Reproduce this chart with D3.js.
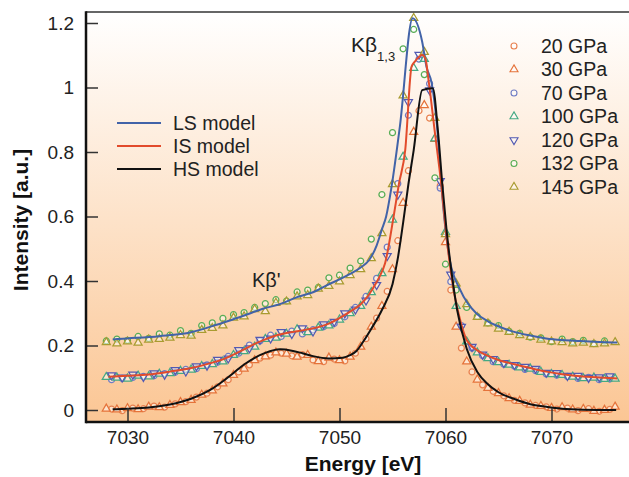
<!DOCTYPE html>
<html><head><meta charset="utf-8">
<script src="https://cdn.jsdelivr.net/npm/d3@7"></script>
<style>
html,body{margin:0;padding:0;background:#fff;}
svg{display:block;font-family:"Liberation Sans",Arial,Helvetica,sans-serif;}
</style></head><body>
<svg id="chart" width="629" height="477"></svg>
<script>
// Energy grids of the measured spectra (eV)
const energyA = [7028.5,7029.5,7030.5,7031.5,7032.5,7033.5,7034.5,7035.5,7036.5,7037.5,7038.5,7039.5,7040.5,7041.5,7042.5,7043.5,7044.5,7045.5,7046.5,7047.5,7048.5,7049.5,7050.5,7051.5,7052.5,7053.5,7054.5,7055.5,7056.5,7057.5,7058.5,7059.5,7060.5,7061.5,7062.5,7063.5,7064.5,7065.5,7066.5,7067.5,7068.5,7069.5,7070.5,7071.5,7072.5,7073.5,7074.5,7075.5];
const energyB = [7028,7029,7030,7031,7032,7033,7034,7035,7036,7037,7038,7039,7040,7041,7042,7043,7044,7045,7046,7047,7048,7049,7050,7051,7052,7053,7054,7055,7056,7057,7058,7059,7060,7061,7062,7063,7064,7065,7066,7067,7068,7069,7070,7071,7072,7073,7074,7075,7076];

// Measured intensities (offset spectra), one array per pressure
const gpa20 = [0.003,-0.002,0.006,0.004,0.012,0.009,0.019,0.026,0.040,0.052,0.072,0.094,0.118,0.140,0.161,0.170,0.176,0.168,0.172,0.155,0.150,0.158,0.152,0.176,0.221,0.285,0.368,0.525,0.742,0.928,0.905,0.695,0.372,0.192,0.118,0.078,0.058,0.044,0.030,0.022,0.014,0.010,0.003,0.006,-0.002,0.004,-0.004,0.002];
const gpa30 = [0.004,0.001,0.005,0.002,0.010,0.008,0.015,0.024,0.031,0.047,0.060,0.082,0.108,0.128,0.154,0.166,0.178,0.174,0.165,0.170,0.151,0.162,0.154,0.165,0.196,0.258,0.322,0.436,0.642,0.862,0.945,0.840,0.520,0.258,0.150,0.094,0.068,0.052,0.036,0.028,0.016,0.012,0.006,0.008,0.001,0.003,-0.003,0.000,0.010];
const gpa70 = [0.094,0.098,0.101,0.104,0.106,0.113,0.117,0.126,0.128,0.140,0.148,0.166,0.176,0.201,0.214,0.232,0.228,0.245,0.236,0.249,0.258,0.268,0.289,0.318,0.352,0.408,0.505,0.702,0.914,1.088,1.012,0.688,0.398,0.262,0.192,0.168,0.150,0.142,0.136,0.126,0.122,0.112,0.108,0.104,0.098,0.101,0.094,0.096];
const gpa100 = [0.102,0.100,0.097,0.106,0.104,0.112,0.114,0.121,0.125,0.136,0.142,0.150,0.170,0.182,0.196,0.220,0.224,0.236,0.250,0.241,0.255,0.262,0.280,0.300,0.322,0.365,0.424,0.590,0.785,1.060,1.088,0.842,0.552,0.322,0.212,0.178,0.160,0.148,0.140,0.132,0.128,0.118,0.111,0.108,0.103,0.098,0.100,0.096,0.097];
const gpa120 = [0.108,0.101,0.110,0.103,0.114,0.110,0.124,0.120,0.136,0.138,0.156,0.160,0.186,0.192,0.218,0.222,0.242,0.236,0.254,0.244,0.266,0.274,0.300,0.312,0.340,0.388,0.478,0.668,0.955,1.102,0.992,0.710,0.420,0.258,0.196,0.172,0.158,0.146,0.140,0.134,0.128,0.116,0.115,0.106,0.106,0.100,0.102,0.105];
const gpa132 = [0.214,0.220,0.216,0.228,0.222,0.236,0.232,0.246,0.238,0.262,0.270,0.284,0.296,0.302,0.318,0.330,0.342,0.338,0.366,0.372,0.380,0.410,0.418,0.440,0.462,0.530,0.668,0.860,1.120,1.180,1.040,0.720,0.452,0.372,0.318,0.290,0.270,0.262,0.244,0.238,0.226,0.224,0.212,0.220,0.212,0.216,0.206,0.214];
const gpa145 = [0.210,0.206,0.212,0.208,0.218,0.220,0.224,0.232,0.230,0.248,0.254,0.262,0.286,0.290,0.312,0.306,0.332,0.336,0.352,0.356,0.376,0.384,0.398,0.418,0.436,0.470,0.548,0.700,0.975,1.215,1.110,0.905,0.545,0.392,0.328,0.288,0.268,0.252,0.242,0.232,0.226,0.218,0.212,0.210,0.206,0.208,0.204,0.206,0.210];

// Model spectra [energy, intensity]
const modelLS = [[7028.6,0.219],[7030,0.222],[7033,0.229],[7036,0.241],[7038,0.260],[7039.5,0.276],[7041,0.293],[7042.7,0.313],[7044.5,0.330],[7046,0.350],[7047.5,0.365],[7049,0.390],[7050,0.405],[7051,0.422],[7052,0.442],[7052.8,0.465],[7053.5,0.51],[7054,0.56],[7054.4,0.60],[7054.9,0.69],[7055.7,0.88],[7056.9,1.215],[7057.8,1.142],[7058.2,1.065],[7058.7,1.013],[7059.2,0.88],[7059.6,0.70],[7060,0.56],[7060.4,0.465],[7061.4,0.372],[7062.9,0.300],[7064,0.275],[7065.1,0.258],[7066.4,0.243],[7068,0.231],[7069.5,0.222],[7071,0.217],[7072.7,0.214],[7074.5,0.211],[7076.2,0.209]];
const modelIS = [[7028.2,0.103],[7030,0.106],[7032,0.110],[7034,0.119],[7036,0.130],[7038,0.147],[7039,0.157],[7040,0.172],[7041,0.188],[7042,0.205],[7043,0.219],[7044,0.231],[7045,0.239],[7046,0.244],[7047,0.250],[7048,0.257],[7049,0.268],[7050,0.285],[7051,0.305],[7052,0.328],[7052.6,0.35],[7053.2,0.38],[7053.8,0.415],[7054.3,0.455],[7055.1,0.599],[7055.6,0.70],[7056.2,0.806],[7056.8,1.065],[7057.1,1.080],[7057.8,1.101],[7058.1,1.090],[7058.4,1.023],[7059.0,0.86],[7059.6,0.70],[7060.1,0.537],[7060.7,0.385],[7061.3,0.29],[7062,0.217],[7063,0.185],[7064,0.168],[7065,0.155],[7066.5,0.142],[7068,0.130],[7069.5,0.119],[7071,0.111],[7072.7,0.105],[7074.5,0.101],[7076.2,0.098]];
const modelHS = [[7028.6,0.002],[7030,0.004],[7032,0.008],[7034,0.017],[7036,0.035],[7038,0.066],[7039,0.089],[7040,0.115],[7041,0.141],[7042,0.162],[7043,0.177],[7044.4,0.188],[7045.5,0.184],[7046.5,0.176],[7047.5,0.167],[7049,0.160],[7050.3,0.162],[7051,0.170],[7051.6,0.183],[7052.2,0.21],[7053,0.252],[7054,0.31],[7055,0.39],[7055.5,0.47],[7056,0.58],[7056.5,0.70],[7057,0.806],[7057.8,0.992],[7058.8,0.998],[7059.3,0.86],[7059.7,0.70],[7060.1,0.558],[7060.6,0.42],[7061.1,0.31],[7062,0.19],[7063,0.118],[7064,0.080],[7065,0.055],[7066.5,0.034],[7068,0.018],[7069.5,0.010],[7071,0.004],[7073,0.001],[7076.1,0]];

const seriesLabels = ["20 GPa","30 GPa","70 GPa","100 GPa","120 GPa","132 GPa","145 GPa"];
const modelLabels = ["LS model","IS model","HS model"];
const xTicks = [7030,7040,7050,7060,7070];
const yTicks = [0,0.2,0.4,0.6,0.8,1,1.2];

const series = [
  {label: seriesLabels[0], e: energyA, v: gpa20,  shape: "circle",  color: "#e8814f"},
  {label: seriesLabels[1], e: energyB, v: gpa30,  shape: "up",      color: "#e5733a"},
  {label: seriesLabels[2], e: energyA, v: gpa70,  shape: "circle",  color: "#6f7cc4"},
  {label: seriesLabels[3], e: energyB, v: gpa100, shape: "up",      color: "#45a983"},
  {label: seriesLabels[4], e: energyA, v: gpa120, shape: "down",    color: "#525ab2"},
  {label: seriesLabels[5], e: energyB, v: gpa132, shape: "circle",  color: "#58ad55"},
  {label: seriesLabels[6], e: energyB, v: gpa145, shape: "up",      color: "#a99b30"}
];
const models = [
  {label: modelLabels[0], pts: modelLS, color: "#4263a8"},
  {label: modelLabels[1], pts: modelIS, color: "#e24b2b"},
  {label: modelLabels[2], pts: modelHS, color: "#111111"}
];

const svg = d3.select("#chart");
const plotL = 86, plotR = 629, plotT = 12, plotB = 422;

const x = d3.scaleLinear().domain([7030, 7070]).range([127.5, 551.5]);
const y = d3.scaleLinear().domain([0, 1.2]).range([410, 23]);

// background wash
const defs = svg.append("defs");
const grad = defs.append("linearGradient").attr("id", "wash")
  .attr("gradientUnits", "userSpaceOnUse")
  .attr("x1", 0).attr("y1", plotT).attr("x2", 0).attr("y2", plotB);
grad.append("stop").attr("offset", "0%").attr("stop-color", "#ffffff");
grad.append("stop").attr("offset", "100%").attr("stop-color", "#fbc694");
svg.append("rect").attr("x", plotL).attr("y", plotT)
  .attr("width", plotR - plotL).attr("height", plotB - plotT).attr("fill", "url(#wash)");

// markers
const symCircle = d3.symbol().type(d3.symbolCircle).size(28)();
const symTri = d3.symbol().type(d3.symbolTriangle).size(28)();
function markerPath(shape) { return shape === "circle" ? symCircle : symTri; }
function markerTransform(shape, px, py) {
  return `translate(${px},${py})` + (shape === "down" ? " rotate(180)" : "");
}

const markG = svg.append("g");
series.forEach(s => {
  markG.append("g").selectAll("path")
    .data(s.v.map((v, i) => [s.e[i], v]))
    .join("path")
    .attr("d", markerPath(s.shape))
    .attr("transform", d => markerTransform(s.shape, x(d[0]), y(d[1])))
    .attr("fill", "#ffffff").attr("fill-opacity", 0.5)
    .attr("stroke", s.color).attr("stroke-width", 1.25);
});

// model curves
const line = d3.line().x(d => x(d[0])).y(d => y(d[1])).curve(d3.curveMonotoneX);
models.forEach(m => {
  svg.append("path").datum(m.pts).attr("d", line)
    .attr("fill", "none").attr("stroke", m.color).attr("stroke-width", 2)
    .attr("stroke-linejoin", "round");
});

// axes
const yAxis = d3.axisLeft(y).tickValues(yTicks).tickSize(-12).tickPadding(12)
  .tickFormat(d => d3.format("~g")(d));
const gy = svg.append("g").attr("transform", `translate(${plotL},0)`).call(yAxis);
gy.select(".domain").remove();
gy.selectAll(".tick line").attr("stroke", "#333").attr("stroke-width", 1.5);
gy.selectAll(".tick text").attr("font-size", 19).attr("fill", "#222")
  .attr("font-family", "Liberation Sans, Arial, sans-serif");

const xAxis = d3.axisBottom(x).tickValues(xTicks).tickSize(-14).tickPadding(9)
  .tickFormat(d3.format("d"));
const gx = svg.append("g").attr("transform", `translate(0,${plotB})`).call(xAxis);
gx.select(".domain").remove();
gx.selectAll(".tick line").attr("stroke", "#333").attr("stroke-width", 1.5);
gx.selectAll(".tick text").attr("font-size", 19).attr("fill", "#222")
  .attr("font-family", "Liberation Sans, Arial, sans-serif");

svg.append("line").attr("x1", plotL).attr("x2", plotR).attr("y1", plotT).attr("y2", plotT)
  .attr("stroke", "#333").attr("stroke-width", 1.6);
svg.append("line").attr("x1", plotL).attr("x2", plotL).attr("y1", plotT - 0.8).attr("y2", plotB + 1.2)
  .attr("stroke", "#111").attr("stroke-width", 2.5);
svg.append("line").attr("x1", plotL).attr("x2", plotR).attr("y1", plotB).attr("y2", plotB)
  .attr("stroke", "#111").attr("stroke-width", 2.5);

// axis titles
svg.append("text").attr("x", 363).attr("y", 471).attr("text-anchor", "middle")
  .attr("font-size", 21).attr("font-weight", "bold").attr("fill", "#111").text("Energy [eV]");
svg.append("text").attr("transform", "translate(28,220) rotate(-90)").attr("text-anchor", "middle")
  .attr("font-size", 21).attr("font-weight", "bold").attr("fill", "#111").text("Intensity [a.u.]");

// model legend
const ml = svg.append("g");
models.forEach((m, i) => {
  const yy = 123 + i * 23;
  ml.append("line").attr("x1", 117).attr("x2", 161).attr("y1", yy).attr("y2", yy)
    .attr("stroke", m.color).attr("stroke-width", 2);
  ml.append("text").attr("x", 173).attr("y", yy).attr("dy", "0.35em")
    .attr("font-size", 19.5).attr("fill", "#222").text(m.label);
});

// pressure legend
const sl = svg.append("g");
series.forEach((s, i) => {
  const yy = 46 + i * 23.5;
  sl.append("path").attr("d", markerPath(s.shape))
    .attr("transform", markerTransform(s.shape, 514, yy))
    .attr("fill", "#ffffff").attr("fill-opacity", 0.5)
    .attr("stroke", s.color).attr("stroke-width", 1.1);
  sl.append("text").attr("x", 541).attr("y", yy).attr("dy", "0.35em")
    .attr("font-size", 19.5).attr("fill", "#222").text(s.label);
});

// peak annotations
const k13 = svg.append("text").attr("x", 351).attr("y", 52).attr("font-size", 21).attr("fill", "#222");
k13.append("tspan").text("Kβ");
k13.append("tspan").attr("font-size", 13).attr("dy", 9).text("1,3");
svg.append("text").attr("x", 252).attr("y", 287).attr("font-size", 20).attr("fill", "#222").text("Kβ'");
</script>
</body></html>
